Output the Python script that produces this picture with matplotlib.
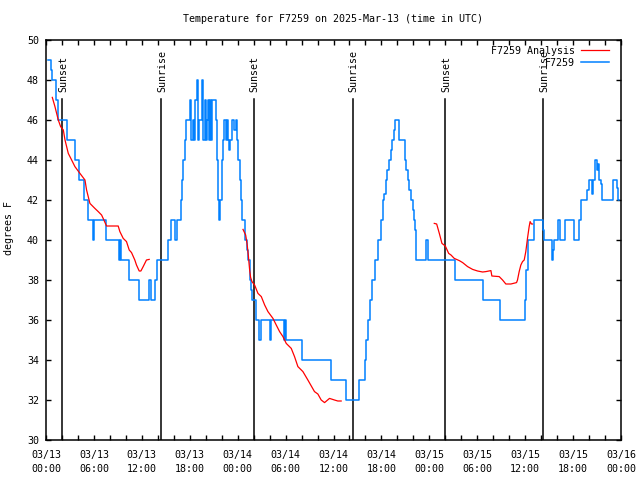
import matplotlib
matplotlib.use("Agg")
import matplotlib.pyplot as plt
import numpy as np

# ---------------- data (hours since 2025-03-13 00:00 UTC) ----------------
# Observed F7259 temperature, as (change time, value) for a step line
obs_hours = [0.29, 0.6, 0.8, 1.2, 1.5, 2.67, 3.6, 4.15, 4.8, 5.3, 5.9, 6.05, 7.5,
             9.1, 9.25, 9.45, 10.4, 11.67, 12.85, 13.1, 13.7, 13.9, 15.3, 15.7,
             16.1, 16.4, 16.9, 17.05, 17.2, 17.35, 17.5, 18.0, 18.2, 18.35, 18.5,
             18.7, 18.85, 19.0, 19.15, 19.55, 19.7, 19.85, 20.0, 20.2, 20.3, 20.4,
             20.55, 20.7, 20.8, 21.3, 21.45, 21.55, 21.7, 21.85, 22.0, 22.15,
             22.35, 22.55, 22.65, 22.8, 22.95, 23.1, 23.3, 23.6, 23.75, 23.95,
             24.1, 24.3, 24.45, 24.6, 24.96, 25.12, 25.29, 25.5, 25.7, 25.79,
             26.3, 26.7, 26.95, 28.05, 28.2, 29.85, 29.95, 30.1, 32.1, 35.7,
             37.6, 39.25, 39.95, 40.1, 40.35, 40.6, 40.85, 41.25, 41.6, 42.0,
             42.2, 42.35, 42.55, 42.75, 43.0, 43.2, 43.35, 43.55, 43.67, 44.0,
             44.2, 44.7, 44.9, 45.05, 45.3, 45.5, 45.7, 45.9, 46.05, 46.15,
             46.3, 47.55, 47.8, 51.25, 54.75, 56.8, 60.0, 60.15, 60.3, 61.05,
             62.2, 62.35, 63.35, 63.5, 63.6, 64.1, 64.3, 65.05, 66.1, 66.75,
             66.95, 67.75, 67.95, 68.4, 68.5, 68.7, 68.8, 68.95, 69.1, 69.25,
             69.45, 69.6, 71.0, 71.5, 71.65, 71.75]
obs_temp = [49, 48.5, 48, 47, 46, 45, 44, 43, 42, 41, 40, 41, 40,
            39, 40, 39, 38, 37, 38, 37, 38, 39, 40, 41,
            40, 41, 42, 43, 44, 45, 46, 47, 45, 46, 45,
            47, 48, 45, 46, 48, 45, 47, 45, 46, 47, 45,
            47, 45, 47, 46, 44, 42, 41, 42, 44, 45,
            46, 45, 46, 45, 44.5, 45, 46, 45.5, 46, 45,
            44, 43, 42, 41, 40, 39.5, 39, 38, 37.5, 37,
            36, 35, 36, 35, 36, 35, 36, 35, 34, 33,
            32, 33, 34, 35, 36, 37, 38, 39, 40, 41,
            42, 42.3, 43, 43.5, 44, 44.5, 45, 45.5, 46, 46,
            45, 45, 44, 43.5, 43, 42.5, 42, 41.5, 41, 40.5,
            39, 40, 39, 38, 37, 36, 37, 38.5, 40, 41,
            40.5, 40, 39, 39.5, 40, 41, 40, 41, 40, 41,
            42, 42.5, 43, 42.3, 43, 43.3, 44, 43.5, 43.8, 43,
            42.8, 42, 43, 42.6, 42, 42]

# Analysis series (three separate segments)
ana1_hours = [0.79, 1.12, 1.54, 1.83, 2.17, 2.38, 2.79, 3.21, 3.62, 4.25, 4.88,
              5.08, 5.5, 6.12, 6.54, 6.96, 7.25, 7.58, 9.04, 9.25, 9.67, 10.08,
              10.42, 10.71, 11.12, 11.33, 11.67, 11.88, 12.17, 12.58, 12.92]
ana1_temp = [47.13, 46.67, 46.0, 45.67, 45.5, 45.0, 44.33, 44.0, 43.67, 43.33, 43.0,
             42.5, 41.83, 41.58, 41.42, 41.25, 41.0, 40.7, 40.7, 40.42, 40.08, 39.92,
             39.5, 39.37, 39.0, 38.75, 38.45, 38.45, 38.67, 39.0, 39.03]
ana2_hours = [24.67, 25.0, 25.17, 25.33, 25.5, 25.62, 25.79, 26.12, 26.54, 26.96,
              27.38, 27.79, 28.42, 28.83, 29.25, 29.67, 30.08, 30.71, 31.12, 31.54,
              32.17, 32.79, 33.62, 34.04, 34.46, 34.88, 35.5, 36.12, 36.54, 36.96]
ana2_temp = [40.53, 40.25, 39.83, 39.25, 38.5, 38.13, 37.92, 37.75, 37.33, 37.17,
             36.75, 36.42, 36.08, 35.75, 35.42, 35.17, 34.83, 34.58, 34.17, 33.67,
             33.42, 33.0, 32.42, 32.3, 32.0, 31.87, 32.08, 32.0, 31.95, 31.95]
ana3_hours = [48.62, 48.92, 49.25, 49.58, 50.0, 50.42, 50.71, 51.12, 51.75, 52.17,
              52.79, 53.42, 54.04, 54.67, 55.08, 55.71, 55.83, 56.75, 57.17, 57.58,
              58.21, 58.92, 59.04, 59.25, 59.46, 59.67, 59.88, 60.08, 60.29, 60.5,
              60.62, 60.79, 60.92]
ana3_temp = [40.83, 40.8, 40.33, 39.83, 39.7, 39.33, 39.25, 39.08, 38.97, 38.87,
             38.67, 38.53, 38.45, 38.4, 38.42, 38.47, 38.2, 38.17, 38.0, 37.8,
             37.8, 37.87, 38.0, 38.42, 38.75, 38.92, 39.0, 39.42, 40.08, 40.67,
             40.92, 40.8, 40.8]

sun_hours = [2.04, 14.42, 26.04, 38.42, 50.0, 62.29]
sun_labels = ["Sunset", "Sunrise", "Sunset", "Sunrise", "Sunset", "Sunrise"]

xtick_hours = [0, 6, 12, 18, 24, 30, 36, 42, 48, 54, 60, 66, 72]
xtick_labels = ["03/13\n00:00", "03/13\n06:00", "03/13\n12:00", "03/13\n18:00",
                "03/14\n00:00", "03/14\n06:00", "03/14\n12:00", "03/14\n18:00",
                "03/15\n00:00", "03/15\n06:00", "03/15\n12:00", "03/15\n18:00",
                "03/16\n00:00"]
ytick_values = [30, 32, 34, 36, 38, 40, 42, 44, 46, 48, 50]

# ---------------- drawing ----------------
FONT = "DejaVu Sans Mono"
FS = 7.2
plt.rcParams["font.family"] = [FONT]
plt.rcParams["font.size"] = FS

fig = plt.figure(figsize=(6.4, 4.8), dpi=100)
ax = fig.add_axes([46 / 640, 1 - 440 / 480, 575 / 640, 400 / 480])

blue = "#0080ff"
red = "#ff0000"

l_obs, = ax.plot(obs_hours, obs_temp, drawstyle="steps-post", color=blue, lw=1.1,
                 zorder=3, label="F7259")
l_ana, = ax.plot(ana1_hours, ana1_temp, color=red, lw=0.9, zorder=4,
                 label="F7259 Analysis")
ax.plot(ana2_hours, ana2_temp, color=red, lw=0.9, zorder=4)
ax.plot(ana3_hours, ana3_temp, color=red, lw=0.9, zorder=4)

line_top = 47.07
for h, lab in zip(sun_hours, sun_labels):
    ax.plot([h, h], [30, line_top], color="black", lw=1.1, zorder=2)
    ax.text(h + 0.1, 47.4, lab, rotation=90, ha="center", va="bottom",
            fontsize=FS, zorder=5)

ax.set_xlim(0, 72)
ax.set_ylim(30, 50)
ax.set_xticks(xtick_hours)
ax.set_xticklabels(xtick_labels, linespacing=1.45)
ax.set_xticks(np.arange(0, 73, 2), minor=True)
ax.set_yticks(ytick_values)
ax.set_yticklabels([str(v) for v in ytick_values])

ax.tick_params(axis="both", which="both", direction="in", top=True, right=True,
               width=1.0, color="black")
ax.tick_params(axis="x", which="both", length=3.5, pad=7.5)
ax.tick_params(axis="y", which="major", length=3.8, pad=5)
for s in ax.spines.values():
    s.set_linewidth(1.1)

ax.set_ylabel("degrees F", fontsize=FS)
ax.yaxis.set_label_coords(-0.055, 0.53)

fig.text(333 / 640, 1 - 19.5 / 480, "Temperature for F7259 on 2025-Mar-13 (time in UTC)",
         ha="center", va="center", fontsize=FS)

leg = ax.legend(handles=[l_ana, l_obs], loc="upper right", frameon=False,
                markerfirst=False, fontsize=FS, handlelength=2.8,
                handletextpad=0.6, borderaxespad=0.0, borderpad=0.4,
                labelspacing=0.2, bbox_to_anchor=(1 - 8 / 575, 1 - 2 / 400))
for t in leg.get_texts():
    t.set_ha("right")
leg.set_zorder(6)

fig.savefig("out.png", dpi=100)
